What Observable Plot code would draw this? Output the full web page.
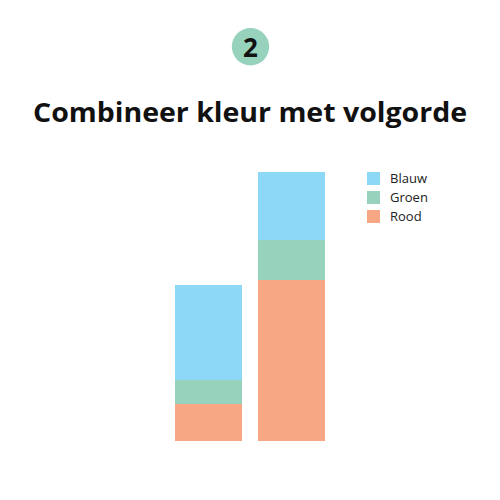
<!DOCTYPE html>
<html>
<head>
<meta charset="utf-8">
<script src="https://cdn.jsdelivr.net/npm/d3@7"></script>
<script src="https://cdn.jsdelivr.net/npm/@observablehq/plot@0.6"></script>
<style>
  html, body { margin: 0; padding: 0; background: #fff; }
  #wrap { position: relative; width: 500px; height: 500px; overflow: hidden; font-family: "Open Sans", sans-serif; }
  #header { position: absolute; left: 0; top: 0; }
  #chart { position: absolute; left: 0; top: 150px; }
  #legend { position: absolute; left: 367px; top: 169px; }
  .item { display: flex; align-items: center; height: 19px; }
  .sw { width: 13px; height: 13px; margin-right: 10px; }
  .lab { font-size: 13px; color: #222; line-height: 13px; }
</style>
</head>
<body>
<div id="wrap">
  <svg id="header" width="500" height="140"></svg>
  <div id="chart"></div>
  <div id="legend"></div>
</div>
<script>
const badge = "2";
const title = "Combineer kleur met volgorde";
const bars = ["A", "B"];
const series = ["Rood", "Groen", "Blauw"];
const legendOrder = ["Blauw", "Groen", "Rood"];
const colors = ["#8ED8F7", "#97D3BC", "#F7A783"];
const rood = [37, 161];
const groen = [24, 40];
const blauw = [95, 68];

const values = {Rood: rood, Groen: groen, Blauw: blauw};
const data = [];
bars.forEach((b, i) => series.forEach(s => data.push({bar: b, kleur: s, waarde: values[s][i]})));

// header
const hdr = d3.select("#header");
hdr.append("circle").attr("cx", 250.5).attr("cy", 46.7).attr("r", 18.7).attr("fill", "#97D3BC");
hdr.append("text").attr("x", 250.5).attr("y", 57).attr("text-anchor", "middle")
  .attr("font-family", "Open Sans, sans-serif").attr("font-weight", 700).attr("font-size", 26)
  .attr("fill", "#111").text(badge);
hdr.append("text").attr("x", 250).attr("y", 122.3).attr("text-anchor", "middle")
  .attr("font-family", "Open Sans, sans-serif").attr("font-weight", 700).attr("font-size", 26)
  .attr("textLength", 434).attr("lengthAdjust", "spacingAndGlyphs")
  .attr("fill", "#111").text(title);

const chart = Plot.plot({
  width: 500,
  height: 300,
  marginLeft: 159,
  marginRight: 159,
  marginTop: 0,
  marginBottom: 9,
  x: {domain: bars, padding: 0.19, axis: null},
  y: {domain: [0, 291], axis: null},
  color: {domain: legendOrder, range: colors},
  marks: [
    Plot.barY(data, Plot.stackY({x: "bar", y: "waarde", fill: "kleur", order: series}))
  ]
});
document.getElementById("chart").appendChild(chart);

const leg = d3.select("#legend");
legendOrder.forEach((k, i) => {
  const it = leg.append("div").attr("class", "item");
  it.append("div").attr("class", "sw").style("background", colors[i]);
  it.append("div").attr("class", "lab").text(k);
});
</script>
</body>
</html>
